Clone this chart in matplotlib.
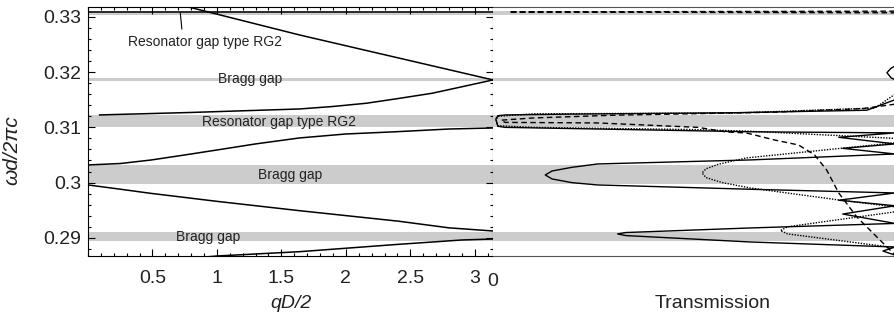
import matplotlib.pyplot as plt
from matplotlib.ticker import MultipleLocator

plt.rcParams['font.family'] = ['Liberation Sans', 'DejaVu Sans']

# gap regions (omega d / 2 pi c)
gap_lo = [0.3304, 0.3184, 0.3100, 0.2997, 0.2895]
gap_hi = [0.3310, 0.3190, 0.3122, 0.3032, 0.2911]

# dispersion bands: qD/2 vs omega
band_a_q = [0.0, 0.5, 1.0, 1.64, 2.4, 2.9, 3.1416]
band_a_w = [0.2850, 0.2857, 0.2867, 0.28748, 0.2888, 0.2896, 0.28978]
band_b_q = [0.0, 0.25, 0.48, 1.0, 1.64, 2.41, 2.8, 3.1416]
band_b_w = [0.29957, 0.2988, 0.29807, 0.2966, 0.29491, 0.2930, 0.2918, 0.29123]
band_c_q = [0.0, 0.25, 0.49, 0.75, 1.0, 1.3, 1.64, 2.0, 2.4, 2.8, 3.1416]
band_c_w = [0.30319, 0.30345, 0.30409, 0.3050, 0.3059, 0.3070, 0.30808, 0.3088, 0.30922, 0.3097, 0.30989]
band_d_q = [0.09, 0.8, 1.2, 1.64, 1.9, 2.16, 2.4, 2.67, 2.9, 3.1416]
band_d_w = [0.31225, 0.3127, 0.3130, 0.31333, 0.31378, 0.31437, 0.3152, 0.31618, 0.31735, 0.31859]
band_e_q = [0.78, 0.87, 1.64, 3.1416]
band_e_w = [0.3318, 0.33127, 0.32674, 0.31859]
band_f_q = [0.0, 3.1416]
band_f_w = [0.3309, 0.3309]

# transmission curves (T, omega)
solid_t = [1.01, 1.01, 0.99, 0.98, 0.99, 1.01, 1.0, 0.93, 0.6, 0.2, 0.03, 0.012, 0.007,
           0.012, 0.03, 0.26, 0.64, 1.0, 0.86, 1.0, 0.87, 1.0, 0.64, 0.26, 0.197, 0.147, 0.13,
           0.147, 0.197, 0.26, 0.64, 1.0, 0.86, 1.0, 0.87, 1.0, 0.64, 0.33, 0.31, 0.33, 0.64, 1.0, 0.97, 1.01]
solid_w = [0.3320, 0.3215, 0.3207, 0.3199, 0.3190, 0.3182, 0.3150, 0.3131, 0.31265, 0.3124, 0.31225, 0.3121, 0.3115,
           0.3102, 0.3100, 0.3097, 0.3092, 0.3090, 0.3082, 0.3070, 0.3062, 0.30518, 0.3041, 0.30337, 0.30277, 0.3021, 0.30138,
           0.30065, 0.29998, 0.29957, 0.29879, 0.29812, 0.2968, 0.2958, 0.2943, 0.2926, 0.29178, 0.29095, 0.29069, 0.2904, 0.28924, 0.28833, 0.2876, 0.2866]

dotted_t = [1.01, 0.95, 0.6, 0.1, 0.012, 0.008, 0.012, 0.1, 0.5, 0.64, 1.0, 1.0, 0.63, 0.56, 0.53, 0.52,
            0.53, 0.57, 0.64, 0.86, 1.0, 1.0, 0.733, 0.715, 0.733, 1.0, 1.01]
dotted_w = [0.3165, 0.3135, 0.3126, 0.31245, 0.3120, 0.3112, 0.3103, 0.3100, 0.3096, 0.3093, 0.3080, 0.3072, 0.30446, 0.3033, 0.3025, 0.30174,
            0.3009, 0.3000, 0.29902, 0.29685, 0.2956, 0.2947, 0.2920, 0.2913, 0.2907, 0.2882, 0.2870]

dashed_t = [1.01, 0.04, 1.01, 1.01, 1.0, 0.92, 0.7, 0.3, 0.1, 0.02, 0.03, 0.26, 0.51, 0.58, 0.63,
            0.70, 0.76, 0.80, 0.83, 0.86, 0.905, 0.955, 0.995, 1.01]
dashed_w = [0.33105, 0.3309, 0.33075, 0.3155, 0.3142, 0.3134, 0.31275, 0.3122, 0.3117, 0.3113, 0.3109, 0.3108, 0.3100, 0.30917, 0.30899,
            0.30772, 0.30681, 0.30500, 0.30228, 0.29812, 0.29377, 0.29014, 0.28725, 0.2862]

labels = ["Resonator gap type RG2", "Bragg gap", "Resonator gap type RG2", "Bragg gap", "Bragg gap"]
label_q = [0.91, 1.256, 1.48, 1.565, 0.93]
label_w = [0.32547, 0.31877, 0.3110, 0.30138, 0.29014]

y_min, y_max = 0.2867, 0.3318
txt = '#222222'
gray = '#cccccc'

fig = plt.figure(figsize=(8.95, 3.2), dpi=100)
ax1 = fig.add_axes([88/895, 0.2, 405/895, 249/320])
ax2 = fig.add_axes([493/895, 0.2, 402/895, 249/320])

for ax in (ax1, ax2):
    for lo, hi in zip(gap_lo, gap_hi):
        ax.axhspan(lo, hi, color=gray, lw=0, zorder=0)
    ax.set_ylim(y_min, y_max)

# left panel: band structure
for q, w in [(band_a_q, band_a_w), (band_b_q, band_b_w), (band_c_q, band_c_w),
             (band_d_q, band_d_w), (band_e_q, band_e_w), (band_f_q, band_f_w)]:
    ax1.plot(q, w, color='black', lw=1.1, zorder=2)

ax1.set_xlim(0, 3.1416)
ax1.xaxis.set_major_locator(MultipleLocator(0.5))
ax1.xaxis.set_minor_locator(MultipleLocator(0.1))
ax1.yaxis.set_major_locator(MultipleLocator(0.01))
ax1.yaxis.set_minor_locator(MultipleLocator(0.002))
ax1.set_xticks([0.5, 1, 1.5, 2, 2.5, 3])
ax1.set_xticklabels(['0.5', '1', '1.5', '2', '2.5', '3'])
ax1.set_yticks([0.29, 0.30, 0.31, 0.32, 0.33])
ax1.set_yticklabels(['0.29', '0.3', '0.31', '0.32', '0.33'])
ax1.tick_params(which='both', direction='in', top=True, right=True, colors='black',
                labelcolor=txt, labelsize=14, width=0.8)
ax1.tick_params(which='major', length=5)
ax1.tick_params(which='minor', length=2.5)
ax1.tick_params(axis='x', pad=10)
ax1.tick_params(axis='y', pad=5)
ax1.set_xlabel('qD/2', fontsize=14, style='italic', color=txt, labelpad=6)

for s, q, w in zip(labels, label_q, label_w):
    ax1.text(q, w, s, fontsize=10, color=txt, ha='center', va='center', zorder=3)
ax1.plot([0.728, 0.716], [0.32783, 0.33072], color='black', lw=0.8, zorder=3)

# right panel: transmission
ax2.plot(solid_t, solid_w, color='black', lw=1.0, zorder=2)
ax2.plot(dotted_t, dotted_w, color='black', lw=1.0, ls=(0, (1, 1)), zorder=2)
ax2.plot(dashed_t, dashed_w, color='black', lw=1.0, ls=(0, (4, 2.5)), zorder=2)
ax2.set_xlim(0, 1)
ax2.set_xticks([0])
ax2.set_xticklabels(['0'])
ax2.set_yticks([])
ax2.tick_params(axis='x', length=0, pad=12, labelsize=14, labelcolor=txt)
ax2.spines['right'].set_visible(False)
ax2.spines['left'].set_visible(False)
for sp in ('top', 'bottom'):
    ax2.spines[sp].set_color('#555555')
ax2.set_xlabel('Transmission', fontsize=14, color=txt)
ax2.xaxis.set_label_coords(0.547, -0.155)

fig.text(12/895, 1 - 150/320, 'ωd/2πc', rotation=90, fontsize=15, style='italic',
         color=txt, ha='center', va='center')

fig.savefig('out.png', dpi=100)
